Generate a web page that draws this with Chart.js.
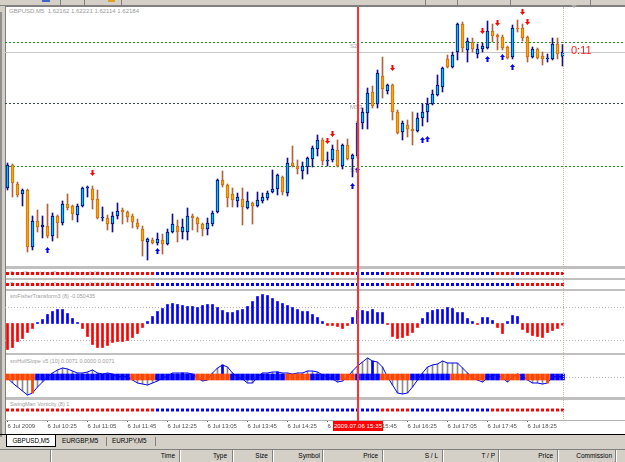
<!DOCTYPE html>
<html>
<head>
<meta charset="utf-8">
<title>GBPUSD,M5</title>
<script src="https://cdn.jsdelivr.net/npm/chart.js@4.4.1/dist/chart.umd.min.js"></script>
<style>
  body { margin: 0; width: 625px; height: 462px; position: relative; overflow: hidden; background: #d4d0c8; font-family: "Liberation Sans", Arial, sans-serif; }
  div, canvas { position: absolute; }
  .t { white-space: nowrap; line-height: 1; }
  .sep { left: 6px; width: 619px; background: #c0c0c0; }
  .ind { left: 10px; font-size: 5.5px; color: #9c9c9c; }
  .col { top: 450px; width: 1px; height: 12px; background: #808080; box-shadow: 1px 0 0 #fff; }
  .hd { top: 450px; height: 12px; line-height: 12px; font-size: 6.5px; text-align: right; color: #000; white-space: nowrap; }
  .tab { top: 435px; height: 12px; line-height: 12px; font-size: 6.3px; color: #000; white-space: nowrap; }
</style>
</head>
<body>

<!-- toolbar strip -->
<div style="left:0;top:0;width:625px;height:5px;border-bottom:1px solid #808080"></div>
<div style="left:42px;top:0;width:8px;height:2px;background:#3c64c8"></div>
<div style="left:108px;top:0;width:7px;height:2px;background:#e0a020"></div>
<div style="left:60px;top:0;width:1px;height:5px;background:#808080"></div>
<div style="left:84px;top:0;width:1px;height:5px;background:#808080"></div>
<div style="left:121px;top:0;width:1px;height:5px;background:#808080"></div>
<div style="left:425px;top:0;width:1px;height:5px;background:#808080"></div>
<div style="left:457px;top:0;width:1px;height:5px;background:#808080"></div>
<div style="left:510px;top:0;width:1px;height:5px;background:#808080"></div>
<div style="left:590px;top:0;width:1px;height:5px;background:#808080"></div>
<div style="left:0;top:12px;width:2px;height:425px;background:#909090"></div>

<!-- chart window -->
<div style="left:5px;top:6px;width:619px;height:427px;background:#fff;border-left:1px solid #808080;border-top:1px solid #808080"></div>
<div class="sep" style="top:266px;height:3px"></div>
<div class="sep" style="top:278px;height:2px"></div>
<div class="sep" style="top:289px;height:2px"></div>
<div class="sep" style="top:353px;height:2px"></div>
<div class="sep" style="top:397px;height:3px"></div>

<div class="t" style="left:9px;top:8px;font-size:6px;color:#9a9a9a">GBPUSD,M5&nbsp; 1.62162 1.62221 1.62114 1.62184</div>
<div class="t ind" style="top:271px;color:#b8b8b8">TrendDots HybridTrend Velocity 1.00</div>
<div class="t ind" style="top:282px;color:#b8b8b8">TrendDots HybridTrend Velocity 2.00 0.0000</div>
<div class="t ind" style="top:294px">smFisherTransform3 (8) -0.050435</div>
<div class="t ind" style="top:359px">smHullSlope v5 (10) 0.0071 0.0000 0.0071</div>
<div class="t ind" style="top:402px">SwingMan Vorticity (8) 1</div>

<canvas id="price" width="620" height="259" style="left:5px;top:7px"></canvas>
<canvas id="dots1" width="620" height="9" style="left:5px;top:269px"></canvas>
<canvas id="dots2" width="620" height="9" style="left:5px;top:280px"></canvas>
<canvas id="fisher" width="620" height="62" style="left:5px;top:291px"></canvas>
<canvas id="hull" width="620" height="42" style="left:5px;top:355px"></canvas>
<canvas id="swing" width="620" height="33" style="left:5px;top:400px"></canvas>

<!-- overlays: shift marker, period line, crosshair, timer -->
<div style="left:571px;top:5px;width:0;height:0;border-left:3px solid transparent;border-right:3px solid transparent;border-top:3px solid #a8a8a8"></div>
<div style="left:563px;top:7px;width:0;height:414px;border-left:1px dotted #d4b48c"></div>
<div style="left:357px;top:7px;width:2px;height:414px;background:#ff3030"></div>
<div class="t" style="left:571px;top:45px;font-size:11px;color:#ff1e1e">0:11</div>
<div class="t" style="left:333px;top:421px;width:50px;height:10px;line-height:10px;background:#ff0000;color:#fff;font-size:6.2px;text-align:center">2009.07.06 15:35</div>

<!-- symbol tabs -->
<div style="left:0;top:434px;width:625px;height:1px;background:#000"></div>
<div class="tab" style="left:6px;width:48px;height:11px;line-height:11px;background:#fff;border:1px solid #000;border-top:none;text-align:center">GBPUSD,M5</div>
<div class="tab" style="left:62px">EURGBP,M5</div>
<div style="left:106px;top:437px;width:1px;height:9px;background:#808080"></div>
<div class="tab" style="left:112px">EURJPY,M5</div>
<div style="left:155px;top:437px;width:1px;height:9px;background:#808080"></div>

<!-- terminal header -->
<div style="left:0;top:449px;width:625px;height:1px;background:#808080"></div>
<div class="col" style="left:50px"></div>
<div class="col" style="left:179px"></div>
<div class="col" style="left:232px"></div>
<div class="col" style="left:272px"></div>
<div class="col" style="left:322px"></div>
<div class="col" style="left:382px"></div>
<div class="col" style="left:442px"></div>
<div class="col" style="left:498px"></div>
<div class="col" style="left:557px"></div>
<div class="col" style="left:615px"></div>
<div class="hd" style="left:52px;width:123px">Time</div>
<div class="hd" style="left:181px;width:46px">Type</div>
<div class="hd" style="left:234px;width:34px">Size</div>
<div class="hd" style="left:274px;width:46px">Symbol</div>
<div class="hd" style="left:324px;width:54px">Price</div>
<div class="hd" style="left:384px;width:54px">S / L</div>
<div class="hd" style="left:444px;width:51px">T / P</div>
<div class="hd" style="left:500px;width:53px">Price</div>
<div class="hd" style="left:559px;width:53px">Commission</div>

<script>
// ..................................................     DATA     ......................................................

const N_SLOTS = 124;   // bar slots across the window, the ones after the last candle are empty

const opens = [
  1.61504, 1.61619, 1.61524, 1.61474, 1.61494, 1.61209, 1.61339, 1.61309, 1.61314, 1.61264,
  1.61364, 1.61329, 1.61424, 1.61414, 1.61369, 1.61414, 1.61504, 1.61499, 1.61449, 1.61354,
  1.61354, 1.61324, 1.61364, 1.61394, 1.61384, 1.61364, 1.61329, 1.61299, 1.61234, 1.61244,
  1.61229, 1.61244, 1.61224, 1.61284, 1.61314, 1.61284, 1.61284, 1.61364, 1.61354, 1.61324,
  1.61299, 1.61324, 1.61384, 1.61544, 1.61519, 1.61474, 1.61439, 1.61449, 1.61404, 1.61429,
  1.61414, 1.61439, 1.61454, 1.61484, 1.61499, 1.61559, 1.61479, 1.61629, 1.61614, 1.61589,
  1.61609, 1.61649, 1.61699, 1.61744, 1.61639, 1.61644, 1.61694, 1.61614, 1.61719, 1.61649,
  1.61664, 1.61829, 1.61879, 1.61984, 1.61924, 1.62064, 1.61989, 1.62019, 1.61884, 1.61784,
  1.61819, 1.61799, 1.61789, 1.61854, 1.61884, 1.61924, 1.61969, 1.62009, 1.62149, 1.62109,
  1.62184, 1.62324, 1.62194, 1.62234, 1.62174, 1.62199, 1.62204, 1.62289, 1.62269, 1.62259,
  1.62209, 1.62159, 1.62304, 1.62304, 1.62259, 1.62159, 1.62199, 1.62164, 1.62149, 1.62149,
  1.62224, 1.62162
];
const highs = [
  1.61629, 1.61624, 1.61534, 1.61499, 1.61499, 1.61364, 1.61394, 1.61364, 1.61424, 1.61379,
  1.61369, 1.61439, 1.61474, 1.61419, 1.61424, 1.61509, 1.61514, 1.61514, 1.61494, 1.61409,
  1.61369, 1.61384, 1.61429, 1.61404, 1.61389, 1.61374, 1.61349, 1.61314, 1.61254, 1.61254,
  1.61279, 1.61274, 1.61299, 1.61374, 1.61344, 1.61349, 1.61404, 1.61374, 1.61359, 1.61329,
  1.61354, 1.61389, 1.61549, 1.61589, 1.61524, 1.61504, 1.61479, 1.61504, 1.61484, 1.61434,
  1.61484, 1.61479, 1.61489, 1.61594, 1.61574, 1.61564, 1.61654, 1.61714, 1.61644, 1.61634,
  1.61659, 1.61714, 1.61769, 1.61754, 1.61684, 1.61719, 1.61744, 1.61724, 1.61749, 1.61674,
  1.61839, 1.61904, 1.62004, 1.62014, 1.62094, 1.62159, 1.62024, 1.62024, 1.61894, 1.61839,
  1.61844, 1.61884, 1.61879, 1.61924, 1.61954, 1.61994, 1.62069, 1.62109, 1.62169, 1.62184,
  1.62329, 1.62334, 1.62254, 1.62254, 1.62224, 1.62229, 1.62339, 1.62324, 1.62274, 1.62269,
  1.62214, 1.62319, 1.62344, 1.62324, 1.62264, 1.62209, 1.62204, 1.62184, 1.62174, 1.62254,
  1.62254, 1.62221
];
const lows = [
  1.61494, 1.61459, 1.61459, 1.61414, 1.61184, 1.61194, 1.61284, 1.61254, 1.61254, 1.61239,
  1.61254, 1.61319, 1.61394, 1.61344, 1.61334, 1.61409, 1.61459, 1.61399, 1.61349, 1.61339,
  1.61294, 1.61284, 1.61349, 1.61324, 1.61334, 1.61304, 1.61299, 1.61164, 1.61144, 1.61224,
  1.61219, 1.61174, 1.61219, 1.61279, 1.61234, 1.61249, 1.61244, 1.61294, 1.61284, 1.61264,
  1.61269, 1.61314, 1.61379, 1.61509, 1.61409, 1.61409, 1.61409, 1.61319, 1.61399, 1.61324,
  1.61409, 1.61429, 1.61444, 1.61479, 1.61469, 1.61469, 1.61464, 1.61609, 1.61574, 1.61549,
  1.61574, 1.61609, 1.61664, 1.61619, 1.61614, 1.61634, 1.61609, 1.61599, 1.61644, 1.61559,
  1.61654, 1.61799, 1.61799, 1.61904, 1.61904, 1.61954, 1.61974, 1.61844, 1.61774, 1.61744,
  1.61759, 1.61719, 1.61784, 1.61814, 1.61834, 1.61919, 1.61964, 1.61984, 1.62104, 1.62104,
  1.62144, 1.62184, 1.62134, 1.62184, 1.62154, 1.62184, 1.62199, 1.62234, 1.62194, 1.62194,
  1.62149, 1.62149, 1.62284, 1.62239, 1.62134, 1.62154, 1.62149, 1.62119, 1.62134, 1.62144,
  1.62149, 1.62114
];
const closes = [
  1.61619, 1.61529, 1.61469, 1.61494, 1.61209, 1.61339, 1.61309, 1.61319, 1.61264, 1.61364,
  1.61329, 1.61424, 1.61404, 1.61374, 1.61414, 1.61504, 1.61509, 1.61444, 1.61354, 1.61359,
  1.61324, 1.61364, 1.61389, 1.61384, 1.61359, 1.61334, 1.61309, 1.61239, 1.61249, 1.61229,
  1.61249, 1.61224, 1.61284, 1.61324, 1.61284, 1.61309, 1.61364, 1.61354, 1.61324, 1.61299,
  1.61329, 1.61379, 1.61544, 1.61519, 1.61454, 1.61444, 1.61459, 1.61409, 1.61439, 1.61414,
  1.61444, 1.61459, 1.61479, 1.61499, 1.61569, 1.61484, 1.61629, 1.61614, 1.61599, 1.61614,
  1.61654, 1.61704, 1.61744, 1.61639, 1.61644, 1.61699, 1.61614, 1.61719, 1.61649, 1.61669,
  1.61829, 1.61884, 1.61979, 1.61914, 1.62079, 1.61999, 1.62019, 1.61884, 1.61779, 1.61829,
  1.61799, 1.61789, 1.61854, 1.61884, 1.61924, 1.61974, 1.62019, 1.62104, 1.62109, 1.62169,
  1.62324, 1.62204, 1.62239, 1.62199, 1.62199, 1.62214, 1.62289, 1.62264, 1.62259, 1.62204,
  1.62154, 1.62304, 1.62299, 1.62254, 1.62159, 1.62199, 1.62154, 1.62149, 1.62154, 1.62224,
  1.62174, 1.62184
];

// signal arrows: bar index and price
const sellArrows = [
  {x: 17, y: 1.61579}, {x: 64, y: 1.61739}, {x: 65, y: 1.61774}, {x: 77, y: 1.62104},
  {x: 95, y: 1.62289}, {x: 98, y: 1.62329}, {x: 103, y: 1.62384}, {x: 104, y: 1.62334}
];
const buyArrows = [
  {x: 8, y: 1.61194}, {x: 30, y: 1.61189}, {x: 69, y: 1.61514}, {x: 70, y: 1.61594},
  {x: 83, y: 1.61744}, {x: 84, y: 1.61749}, {x: 96, y: 1.62149}, {x: 99, y: 1.62159},
  {x: 101, y: 1.62109}
];

const pivotNames = ['S2', 'MS3', 'S3'];
const pivotValues = [1.62234, 1.61929, 1.61614];
const bidPrice = 1.62184;

// one label every 8 bars, starting at bar 0
const timeTicks = [
  '6 Jul 2009', '6 Jul 10:25', '6 Jul 11:05', '6 Jul 11:45', '6 Jul 12:25', '6 Jul 13:05', '6 Jul 13:45',
  '6 Jul 14:25', '6 Jul 15:05', '6 Jul 15:45', '6 Jul 16:25', '6 Jul 17:05', '6 Jul 17:45', '6 Jul 18:25'
];

// dot rows, one letter per bar: R = red, B = blue
const trendDots1 = 'RRRRRRRRRR RRRRRRRRRR RRRRRRRRRR BBBBBBBBBB BBBBBBBBBB BBBBBBBBBB BBBBBRRRRR BBBBBBRRRR RRRBBBBBBB BBBBBBBBRR RRBRRRRRRR RR';
const trendDots2 = 'RRRRRRRRRR RRRRRRRRRR RRRRRRRRRR BBBBBBBBBB BBBBBBBBBB BBBBBBBBBB BBBBBBBBBB BBBBBBRRRR RRBBBBBBBB BBBBBBBBBB BBRRRRRRRR RR';
const swingDots  = 'RRRRRRRRRR RRRRRRRRRR RRRRRRRRRR BBBBBBBBBB BBBBBBBBBB BBBBBBBBBB BBBBBBBBBB BBBBBRRRRR RBBBBBBBBB BBBBBBBRRR RRRRRRRRRR RR';

const fisher = [
  -0.78, -0.72, -0.54, -0.45, -0.27, -0.15, 0.03, 0.12, 0.27, 0.36,
  0.42, 0.42, 0.30, 0.15, 0.03, -0.15, -0.39, -0.63, -0.72, -0.72,
  -0.66, -0.57, -0.54, -0.54, -0.51, -0.42, -0.30, -0.12, 0.06, 0.21,
  0.36, 0.45, 0.57, 0.60, 0.57, 0.54, 0.51, 0.51, 0.48, 0.54,
  0.57, 0.57, 0.48, 0.39, 0.33, 0.33, 0.39, 0.42, 0.51, 0.66,
  0.81, 0.87, 0.84, 0.75, 0.66, 0.60, 0.54, 0.48, 0.42, 0.36,
  0.36, 0.27, 0.18, 0.06, -0.06, -0.06, -0.09, -0.15, -0.06, 0.18,
  0.39, 0.39, 0.36, 0.42, 0.33, 0.33, -0.03, -0.39, -0.45, -0.42,
  -0.36, -0.27, -0.12, 0.15, 0.33, 0.39, 0.42, 0.42, 0.48, 0.45,
  0.33, 0.33, 0.15, 0.06, -0.03, 0.18, 0.18, 0.09, -0.12, -0.30,
  0.06, 0.24, 0.21, -0.18, -0.27, -0.36, -0.39, -0.42, -0.27, -0.21,
  -0.15, -0.05
];
const fisherLevels = [0.5, -0.5];

const hullSlope = [
  -0.001, -0.006, -0.010, -0.014, -0.018, -0.016, -0.010, -0.005, 0, 0.004,
  0.007, 0.009, 0.008, 0.006, 0.004, 0.004, 0.005, 0.007, 0.004, 0.003,
  0.004, 0.003, 0, 0.001, 0, -0.003, -0.006, -0.007, -0.008, -0.006,
  -0.004, -0.001, 0.001, 0.004, 0.004, 0.004, 0.004, 0.003, -0.001, -0.004,
  -0.003, 0.004, 0.009, 0.012, 0.010, 0.004, 0, -0.002, -0.006, -0.006,
  0, 0.004, 0.004, 0.005, 0.005, 0.004, 0.004, 0.003, 0.004, 0.004,
  0.006, 0.006, 0.005, 0.002, 0, -0.002, -0.005, -0.004, 0, 0.006,
  0.011, 0.015, 0.019, 0.016, 0.015, 0.010, 0, -0.008, -0.016, -0.017,
  -0.016, -0.010, -0.003, 0.004, 0.010, 0.012, 0.013, 0.016, 0.014, 0.014,
  0.014, 0.009, 0.004, -0.001, -0.003, -0.005, -0.001, 0.002, 0.002, -0.001,
  -0.005, 0, 0.003, 0.001, -0.003, -0.006, -0.006, -0.007, -0.006, 0,
  0.001, 0
];
// band state per bar: O = falling (orange), B = rising (blue)
const hullState = 'OOOOOOBBBB BBBBBBBBBB BBBBBOOOOO BBBBBBBBOO OOOOOBBBBB BBBBBBOOOO OBBBBBBOOO BBBBBOOOOO OBBBBBBBBO OOOOOOBBBO OOOBOOOOOB BB';
const hullSpikeIdx = [5, 35, 43, 54, 73, 108];
const hullSpikeVal = [-0.016, 0.004, 0.012, 0.005, 0.016, -0.006];

// ..................................................     SETUP     .....................................................

Chart.defaults.font.family = '"Liberation Sans", Arial, sans-serif';
Chart.defaults.animation = false;
Chart.defaults.events = [];
Chart.defaults.plugins.legend.display = false;
Chart.defaults.plugins.tooltip.enabled = false;
Chart.defaults.elements.point.hoverRadius = 0;

const RED = '#ff0000', BLUE = '#0000ff', HULL_ORANGE = '#ff4500';
const HULL_BAND = 0.003;
const DOT_LEVEL = 0.5;

const slots = Array.from({length: N_SLOTS}, (_, i) => i);
const letters = s => s.replace(/ /g, '').split('');
const noPad = {padding: 0, autoPadding: false};

// horizontal level lines drawn under the datasets
function levelLines(lines) {
  return {
    id: 'levelLines',
    beforeDatasetsDraw(chart) {
      const {ctx, chartArea, scales} = chart;
      ctx.save();
      lines.forEach(function (l) {
        const py = Math.round(scales.y.getPixelForValue(l.value)) + 0.5;
        ctx.strokeStyle = l.color;
        ctx.lineWidth = 1;
        ctx.setLineDash(l.dash || []);
        ctx.beginPath();
        ctx.moveTo(chartArea.left, py);
        ctx.lineTo(chartArea.right, py);
        ctx.stroke();
        if (l.label) {
          ctx.fillStyle = '#a4a4a4';
          ctx.font = '6px "Liberation Sans"';
          ctx.textBaseline = 'top';
          ctx.fillText(l.label, scales.x.getPixelForValue(68.5), py + 1);
        }
      });
      ctx.restore();
    }
  };
}

function arrowImage(color, up) {
  const c = document.createElement('canvas');
  c.width = 5;
  c.height = 6;
  const g = c.getContext('2d');
  g.fillStyle = color;
  g.beginPath();
  if (up) {
    g.moveTo(2.5, 0); g.lineTo(5, 3); g.lineTo(0, 3);
    g.fill();
    g.fillRect(1.5, 2, 2, 4);
  } else {
    g.moveTo(0, 3); g.lineTo(5, 3); g.lineTo(2.5, 6);
    g.fill();
    g.fillRect(1.5, 0, 2, 4);
  }
  return c;
}

const hidden = {display: false, offset: true};

// ..................................................     PRICE     .....................................................

const isUp = closes.map((c, i) => c >= opens[i]);

new Chart(document.getElementById('price'), {
  type: 'bar',
  data: {
    labels: slots,
    datasets: [
      {
        data: opens.map((o, i) => [o, closes[i]]),
        backgroundColor: isUp.map(u => u ? '#00bfff' : '#ffa500'),
        borderColor: isUp.map(u => u ? '#000080' : '#cc6a14'),
        borderWidth: 1,
        borderSkipped: false,
        barThickness: 3,
        grouped: false,
        order: 1
      },
      {
        data: lows.map((l, i) => [l, highs[i]]),
        backgroundColor: isUp.map(u => u ? '#10108c' : '#b0643c'),
        barThickness: 1,
        grouped: false,
        order: 2
      },
      {type: 'line', data: sellArrows, showLine: false, pointRadius: 3, pointStyle: arrowImage(RED, false), order: 0},
      {type: 'line', data: buyArrows, showLine: false, pointRadius: 3, pointStyle: arrowImage(BLUE, true), order: 0}
    ]
  },
  options: {
    responsive: false,
    layout: noPad,
    scales: {
      x: hidden,
      y: {display: false, min: 1.61114, max: 1.62409, beginAtZero: false}
    }
  },
  plugins: [levelLines([
    {value: pivotValues[0], color: '#2a8c2a', dash: [2, 2], label: pivotNames[0]},
    {value: pivotValues[1], color: '#34494a', dash: [2, 2], label: pivotNames[1]},
    {value: pivotValues[2], color: '#2a8c2a', dash: [2, 2], label: pivotNames[2]},
    {value: bidPrice, color: '#c8c8c8'}
  ])]
});

// ..................................................     DOT ROWS     ..................................................

function dotRow(id, states, withTime) {
  const s = letters(states);
  const x = withTime ? {
    display: true,
    offset: true,
    grid: {
      offset: false,
      drawOnChartArea: false,
      tickLength: 2,
      color: c => (c.index % 8 === 0 && c.index / 8 < timeTicks.length) ? '#505050' : 'rgba(0,0,0,0)'
    },
    border: {display: true, color: '#b4b4b4'},
    ticks: {
      autoSkip: false,
      maxRotation: 0,
      align: 'start',
      padding: 1,
      color: '#505050',
      font: {size: 6},
      callback: (v, i) => (i % 8 === 0 && timeTicks[i / 8]) ? timeTicks[i / 8] : ''
    },
    afterFit: axis => { axis.height = 13; }
  } : hidden;

  new Chart(document.getElementById(id), {
    type: 'line',
    data: {
      labels: slots,
      datasets: [{
        data: s.map(() => DOT_LEVEL),
        showLine: false,
        pointStyle: 'rect',
        pointRadius: 2.1,
        pointBorderWidth: 0,
        pointBackgroundColor: s.map(c => c === 'R' ? RED : BLUE)
      }]
    },
    options: {
      responsive: false,
      layout: noPad,
      scales: {x: x, y: {display: false, min: 0, max: 1}}
    }
  });
}

dotRow('dots1', trendDots1, false);
dotRow('dots2', trendDots2, false);

// ..................................................     FISHER     ....................................................

new Chart(document.getElementById('fisher'), {
  type: 'bar',
  data: {
    labels: slots,
    datasets: [{
      data: fisher,
      backgroundColor: fisher.map(v => v >= 0 ? BLUE : RED),
      barThickness: 2
    }]
  },
  options: {
    responsive: false,
    layout: noPad,
    scales: {x: hidden, y: {display: false, min: -0.885, max: 0.975}}
  },
  plugins: [levelLines(fisherLevels.map(v => ({value: v, color: '#b4b4b4', dash: [1, 2]})))]
});

// ..................................................     HULL SLOPE     ................................................

const hullColors = letters(hullState).map(c => c === 'O' ? HULL_ORANGE : BLUE);
const spikes = hullSpikeIdx.map((x, k) => ({x: x, y: hullSpikeVal[k]}));

new Chart(document.getElementById('hull'), {
  type: 'bar',
  data: {
    labels: slots,
    datasets: [
      {data: hullSlope, backgroundColor: '#8c8c8c', barThickness: 1, grouped: false, order: 4},
      {type: 'line', data: hullSlope, borderColor: BLUE, borderWidth: 1, pointRadius: 0, tension: 0, order: 3},
      {data: spikes, backgroundColor: spikes.map(p => p.y < 0 ? HULL_ORANGE : BLUE), barThickness: 2, grouped: false, order: 2},
      {data: hullColors.map(() => [-HULL_BAND, HULL_BAND]), backgroundColor: hullColors, barThickness: 4, grouped: false, order: 1}
    ]
  },
  options: {
    responsive: false,
    layout: noPad,
    scales: {x: hidden, y: {display: false, min: -0.020, max: 0.022}}
  },
  plugins: [levelLines([{value: 0, color: '#b4b4b4', dash: [1, 2]}])]
});

// ..................................................     SWINGMAN + TIME AXIS     ......................................

dotRow('swing', swingDots, true);
</script>
</body>
</html>
